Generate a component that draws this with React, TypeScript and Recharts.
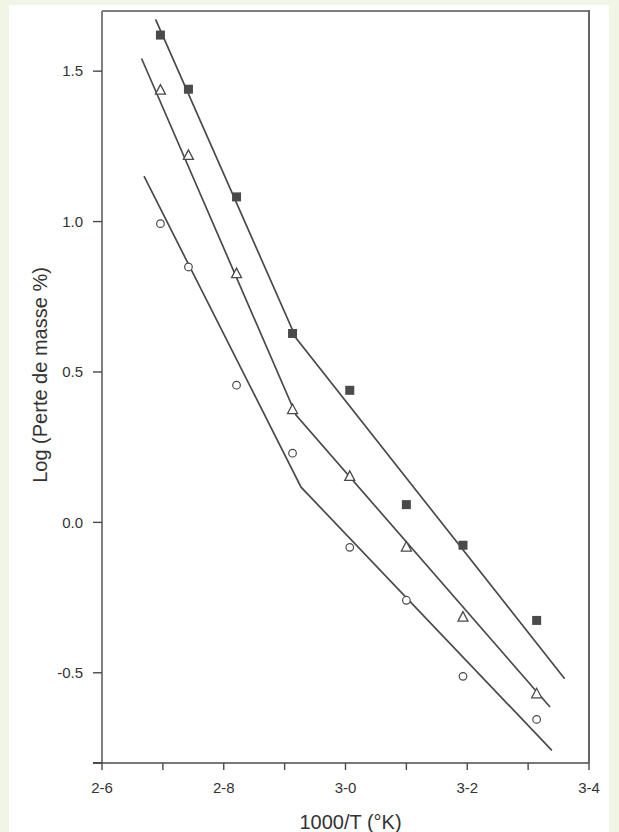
import { ComposedChart, Line, Scatter, XAxis, YAxis, Label } from "recharts";

// 1000/T positions of the measurements (same for the three series)
const xValues = [2.696, 2.742, 2.821, 2.913, 3.007, 3.1, 3.193, 3.314];

// log(mass loss %)
const squareValues = [1.62, 1.44, 1.082, 0.628, 0.439, 0.059, -0.076, -0.326];
const triangleValues = [1.437, 1.22, 0.827, 0.375, 0.153, -0.082, -0.315, -0.57];
const circleValues = [0.993, 0.849, 0.456, 0.23, -0.083, -0.259, -0.512, -0.655];

// broken fit lines: [start, knee, end]
const squareFitX = [2.688, 2.919, 3.36];
const squareFitY = [1.672, 0.612, -0.52];
const triangleFitX = [2.665, 2.919, 3.336];
const triangleFitY = [1.542, 0.356, -0.614];
const circleFitX = [2.669, 2.927, 3.339];
const circleFitY = [1.151, 0.117, -0.758];

const xTicks = [2.6, 2.7, 2.8, 2.9, 3.0, 3.1, 3.2, 3.3, 3.4];
const xTickLabels = ["2-6", "", "2-8", "", "3-0", "", "3-2", "", "3-4"];
const yTicks = [-0.5, 0, 0.5, 1, 1.5];
const yTickLabels = ["-0.5", "0.0", "0.5", "1.0", "1.5"];

const X_DOMAIN = [2.6, 3.4];
const Y_DOMAIN = [-0.8, 1.7];

const W = 619;
const H = 832;
const MARGIN = { top: 11, right: 30, bottom: 0, left: 30 };
const Y_AXIS_W = 72;
const X_AXIS_H = 69;

const FONT = '"Liberation Sans", Arial, sans-serif';
const INK = "#4a4a4a";
const TEXT = "#333333";

const toPoints = (xs: number[], ys: number[]) => xs.map((x, i) => ({ x, y: ys[i] }));

const squares = toPoints(xValues, squareValues);
const triangles = toPoints(xValues, triangleValues);
const circles = toPoints(xValues, circleValues);
const squareFit = toPoints(squareFitX, squareFitY);
const triangleFit = toPoints(triangleFitX, triangleFitY);
const circleFit = toPoints(circleFitX, circleFitY);

const labelFor = (ticks: number[], labels: string[]) => (v: number) => {
  const i = ticks.findIndex((t) => Math.abs(t - v) < 1e-6);
  return i >= 0 ? labels[i] : "";
};

function SquareMark(props: any) {
  const { cx, cy } = props;
  return <rect x={cx - 4.5} y={cy - 4.5} width={9} height={9} fill={INK} />;
}

function TriangleMark(props: any) {
  const { cx, cy } = props;
  const pts = `${cx},${cy - 5.5} ${cx - 5},${cy + 4} ${cx + 5},${cy + 4}`;
  return <polygon points={pts} fill="#fff" stroke={INK} strokeWidth={1.3} />;
}

function CircleMark(props: any) {
  const { cx, cy } = props;
  return <circle cx={cx} cy={cy} r={3.8} fill="#fff" stroke={INK} strokeWidth={1.2} />;
}

export default function App() {
  const tickStyle = { fontSize: 15, fill: TEXT, fontFamily: FONT };
  // plot box, used for the top/right frame edges
  const boxLeft = MARGIN.left + Y_AXIS_W;
  const boxTop = MARGIN.top;
  const boxW = W - MARGIN.right - boxLeft;
  const boxH = H - MARGIN.bottom - X_AXIS_H - boxTop;
  return (
    <div
      style={{
        position: "absolute",
        left: 0,
        top: 0,
        width: W,
        height: H,
        background: "#f1f5e6",
        overflow: "hidden",
      }}
    >
      <div
        style={{
          position: "absolute",
          left: 9,
          top: 5,
          width: 600,
          height: 827,
          background: "#ffffff",
        }}
      />
      <div style={{ position: "absolute", left: 0, top: 0 }}>
        <ComposedChart width={W} height={H} margin={MARGIN}>
          <XAxis
            dataKey="x"
            type="number"
            domain={X_DOMAIN}
            ticks={xTicks}
            interval={0}
            tickFormatter={labelFor(xTicks, xTickLabels)}
            height={X_AXIS_H}
            tickSize={7}
            tickMargin={12}
            tick={tickStyle}
            stroke={INK}
            strokeWidth={1.4}
          >
            <Label
              content={(p: any) => {
                const vb = p.viewBox;
                return (
                  <text
                    x={vb.x + vb.width / 2 + 5}
                    y={vb.y + vb.height - 3}
                    textAnchor="middle"
                    fontSize={20}
                    fill={TEXT}
                    fontFamily={FONT}
                  >
                    1000/T (°K)
                  </text>
                );
              }}
            />
          </XAxis>
          <YAxis
            dataKey="y"
            type="number"
            domain={Y_DOMAIN}
            ticks={yTicks}
            interval={0}
            tickFormatter={labelFor(yTicks, yTickLabels)}
            width={Y_AXIS_W}
            tickSize={9}
            tickMargin={10}
            tick={tickStyle}
            stroke={INK}
            strokeWidth={1.4}
          >
            <Label
              content={(p: any) => {
                const vb = p.viewBox;
                const cx = vb.x + 10;
                const cy = vb.y + vb.height / 2 - 12;
                return (
                  <text
                    x={cx}
                    y={cy}
                    transform={`rotate(-90 ${cx} ${cy})`}
                    textAnchor="middle"
                    dominantBaseline="central"
                    fontSize={20}
                    fill={TEXT}
                    fontFamily={FONT}
                  >
                    Log (Perte de masse %)
                  </text>
                );
              }}
            />
          </YAxis>

          <Line data={squareFit} dataKey="y" stroke={INK} strokeWidth={1.7} dot={false} isAnimationActive={false} />
          <Line data={triangleFit} dataKey="y" stroke={INK} strokeWidth={1.7} dot={false} isAnimationActive={false} />
          <Line data={circleFit} dataKey="y" stroke={INK} strokeWidth={1.7} dot={false} isAnimationActive={false} />

          <Scatter data={squares} dataKey="y" shape={SquareMark} isAnimationActive={false} />
          <Scatter data={triangles} dataKey="y" shape={TriangleMark} isAnimationActive={false} />
          <Scatter data={circles} dataKey="y" shape={CircleMark} isAnimationActive={false} />
        </ComposedChart>
      </div>
      {/* top edge of the plot frame */}
      <div
        style={{
          position: "absolute",
          left: boxLeft,
          top: boxTop - 1,
          width: boxW + 1,
          height: 2,
          background: "#7d7d7d",
          pointerEvents: "none",
        }}
      />
      {/* right edge of the plot frame */}
      <div
        style={{
          position: "absolute",
          left: boxLeft + boxW - 1,
          top: boxTop - 1,
          width: 2,
          height: boxH + 1,
          background: "#666666",
          pointerEvents: "none",
        }}
      />
      {/* x axis line runs a little past the y axis, as in the scan */}
      <div
        style={{
          position: "absolute",
          left: boxLeft - 9,
          top: boxTop + boxH - 0.7,
          width: 9,
          height: 1.4,
          background: INK,
        }}
      />
    </div>
  );
}
